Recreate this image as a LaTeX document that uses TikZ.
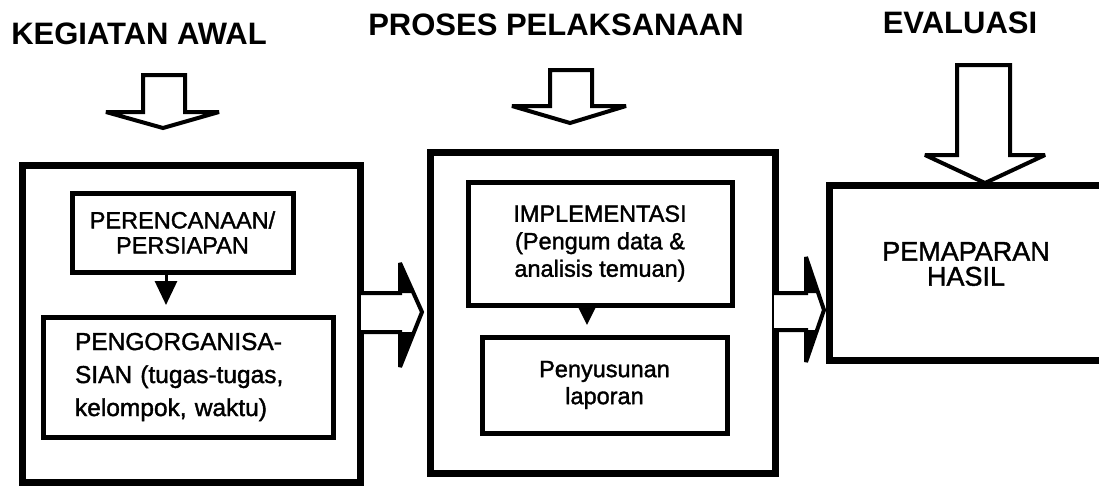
\documentclass[tikz,border=0pt]{standalone}
\usepackage{fontspec}
\setmainfont{Liberation Sans}
\newfontfamily\heavyfont[FakeBold=1.5]{Liberation Sans}
\usetikzlibrary{arrows.meta}
\begin{document}
\begin{tikzpicture}[x=1pt,y=-1pt,
  title/.style={font=\fontsize{31}{36}\selectfont\bfseries, anchor=base, inner sep=0pt},
  outerbox/.style={draw, line width=7pt, inner sep=0pt},
  innerbox/.style={draw, line width=5pt, align=center, inner sep=0pt},
  bigarrow/.style={draw, line width=4pt, fill=white, line join=miter, miter limit=4},
  smallarrow/.style={line width=3pt, -{Triangle[length=24pt,width=22pt]}},
  smallarrowb/.style={line width=3pt, -{Triangle[length=22pt,width=21pt]}},
  wing/.style={fill=black}]
\path[use as bounding box] (0,0) rectangle (1099,485);
\clip (0,0) rectangle (1099,485);

% titles
\node[title] (t1) at (139,44) {KEGIATAN AWAL};
\node[title] (t2) at (556,35) {PROSES PELAKSANAAN};
\node[title] (t3) at (960,33) {EVALUASI};

% outer boxes
\node[outerbox, minimum width=338pt, minimum height=317pt] (b1) at (191,323.5) {};
\node[outerbox, minimum width=345pt, minimum height=321pt] (b2) at (602.5,312.5) {};
\node[outerbox, minimum width=274pt, minimum height=175pt] (b3) at (966,272.5) {};
\node[align=center, inner sep=0pt, font=\heavyfont\fontsize{27}{25}\selectfont] (h3) at (966,264) {PEMAPARAN\\HASIL};

% inner boxes
\node[innerbox, minimum width=221pt, minimum height=79pt, font=\heavyfont\fontsize{23.5}{25}\selectfont] (A) at (182.5,232.5) {PERENCANAAN/\\PERSIAPAN};
\node[innerbox, minimum width=290pt, minimum height=120pt, text width=226pt, inner xsep=32pt, align=left, font=\heavyfont\fontsize{24.5}{33}\selectfont] (B) at (188,377) {PENGORGANISA-\\SIAN (tugas-tugas,\\kelompok, waktu)};
\node[innerbox, minimum width=264pt, minimum height=123pt, font=\heavyfont\fontsize{23.5}{27.5}\selectfont] (C) at (600,243.5) {IMPLEMENTASI\\(Pengum data \&\\analisis temuan)};
\node[innerbox, minimum width=245pt, minimum height=96pt, font=\heavyfont\fontsize{23.5}{27}\selectfont] (D) at (604.5,385) {Penyusunan\\laporan};

% small arrows
\coordinate (tA) at (166,305);
\draw[smallarrow] (A.south -| tA) -- (tA);
\coordinate (tC) at (587,325);
\draw[smallarrowb] (C.south -| tC) -- (tC);

% big down arrows
\draw[bigarrow] (143,75) -- (185,75) -- (185,112) -- (219,112) -- (163,128) -- (106,112) -- (143,112) -- cycle;
\draw[bigarrow] (550,70) -- (592,70) -- (592,106) -- (626,106) -- (570,123) -- (512,106) -- (550,106) -- cycle;
\draw[bigarrow] (957,65) -- (1010,65) -- (1010,155) -- (1045,155) -- (985,183) -- (925,155) -- (957,155) -- cycle;

% right arrows
\draw[bigarrow] (361,293) -- (400,293) -- (400,263) -- (422,312) -- (400,367) -- (400,332) -- (361,332);
\fill[wing] (400,263) -- (413.5,293) -- (400,293) -- cycle;
\fill[wing] (400,367) -- (414,332) -- (400,332) -- cycle;
\draw[bigarrow] (774,293) -- (806,293) -- (806,257) -- (824,310) -- (806,362) -- (806,330) -- (774,330);
\fill[wing] (806,257) -- (818,293) -- (806,293) -- cycle;
\fill[wing] (806,362) -- (817,330) -- (806,330) -- cycle;
\end{tikzpicture}
\end{document}
